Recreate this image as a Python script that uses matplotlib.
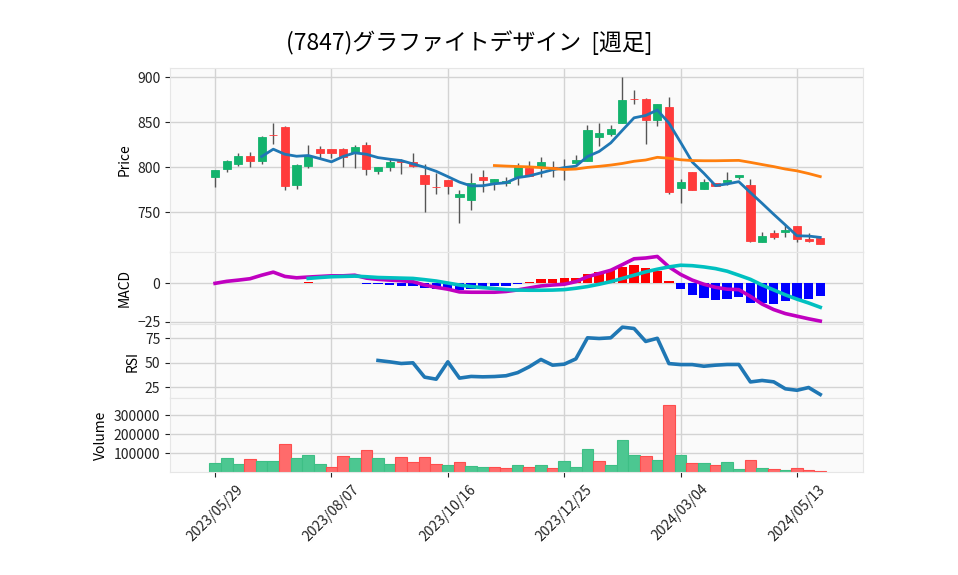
import numpy as np
import matplotlib
matplotlib.use("Agg")
import matplotlib.pyplot as plt
from matplotlib.ticker import FuncFormatter

plt.rcParams["font.family"] = ["Noto Sans CJK JP", "DejaVu Sans"]

# ---------------------------
# Datos semanales
# ---------------------------
title = "(7847)グラファイトデザイン  [週足]"
tick_pos = [0, 10, 20, 30, 40, 50]
tick_labels = ["2023/05/29", "2023/08/07", "2023/10/16",
               "2023/12/25", "2024/03/04", "2024/05/13"]

opens = [789.6, 798.5, 804.0, 812.6, 807.4, 836.0, 844.8, 780.4, 801.9, 820.4,
         820.4, 820.4, 816.3, 824.8, 796.3, 800.0, 807.4, 805.9, 791.5, 778.1,
         785.9, 767.4, 764.0, 789.3, 783.3, 782.2, 788.9, 798.9, 800.0, 800.0,
         798.9, 804.4, 807.4, 834.0, 837.0, 849.6, 876.0, 876.0, 851.9, 866.3,
         777.4, 794.8, 775.9, 782.2, 784.1, 788.9, 780.4, 716.7, 727.0, 728.5,
         734.8, 720.4, 721.1]
closes = [796.7, 807.0, 812.6, 807.4, 833.7, 835.2, 779.6, 802.6, 813.0, 816.3,
          816.3, 811.1, 822.2, 797.8, 800.4, 806.3, 805.9, 801.9, 781.1, 777.8,
          779.6, 770.4, 782.2, 786.3, 787.0, 784.8, 800.0, 790.7, 805.6, 798.5,
          800.0, 808.1, 841.5, 838.1, 842.6, 874.8, 875.6, 851.9, 870.4, 773.0,
          784.1, 775.2, 783.3, 779.6, 785.9, 791.5, 718.5, 723.7, 723.0, 730.4,
          720.7, 718.5, 714.8]
highs = [796.7, 808.1, 815.6, 817.4, 834.8, 849.6, 845.9, 803.7, 824.4, 823.0,
         820.4, 821.5, 824.8, 828.5, 800.4, 810.0, 808.9, 815.6, 803.3, 793.3,
         785.9, 774.8, 793.3, 797.0, 787.0, 788.9, 804.4, 807.4, 811.9, 807.4,
         808.9, 813.7, 847.0, 848.9, 847.0, 900.0, 886.0, 876.7, 870.4, 877.8,
         786.7, 794.8, 786.7, 782.2, 794.4, 791.5, 786.7, 727.8, 730.4, 736.0,
         734.8, 726.7, 721.1]
lows = [777.8, 794.4, 801.5, 800.0, 803.3, 825.5, 774.8, 775.6, 798.9, 810.7,
        810.7, 800.0, 798.9, 791.5, 792.2, 796.3, 792.2, 800.0, 750.0, 770.4,
        770.4, 737.8, 752.6, 772.2, 774.8, 779.6, 780.0, 790.7, 789.6, 789.6,
        786.0, 804.4, 807.4, 823.7, 834.8, 849.6, 870.0, 825.6, 845.2, 770.0,
        760.0, 775.2, 775.9, 779.6, 780.4, 786.7, 716.7, 716.7, 720.0, 723.0,
        716.7, 717.4, 714.4]

nan = np.nan
ma5 = [nan, nan, nan, nan,
       811.9, 820.0, 814.4, 812.2, 813.0, 809.6, 806.0, 811.9, 816.0, 814.4,
       810.7, 808.9, 807.4, 803.7, 800.0, 795.5, 789.6, 783.5, 779.3, 779.5,
       781.7, 782.8, 788.5, 790.4, 793.8, 797.2, 799.6, 801.2, 811.9, 817.5,
       827.0, 841.0, 854.8, 857.4, 863.4, 848.9, 827.6, 805.8, 793.3, 779.6,
       781.5, 784.0, 771.9, 760.0, 747.8, 736.0, 724.0, 723.7, 722.2]
ma25 = [nan] * 24 + [
    801.9, 801.3, 800.8, 800.4, 799.6, 798.6, 797.5, 798.0, 799.8, 801.0,
    802.4, 804.2, 806.6, 808.0, 811.0, 810.0, 808.3, 807.4, 807.2, 807.2,
    807.4, 807.6, 805.4, 803.0, 800.7, 798.0, 796.0, 793.0, 789.6]

macd = [0.0, 1.3, 2.1, 3.0, 5.3, 7.3, 4.5, 3.6, 4.1, 4.5,
        4.9, 4.9, 5.3, 3.4, 2.6, 2.1, 1.7, 1.1, -1.1, -2.6,
        -3.8, -5.6, -5.8, -5.8, -5.8, -5.3, -4.3, -3.0, -1.7, -1.1,
        -0.6, 1.1, 4.3, 6.4, 8.5, 12.2, 16.0, 16.5, 17.5, 10.7,
        5.8, 2.1, -0.6, -2.6, -3.8, -4.1, -8.5, -13.5, -17.1, -19.7,
        -21.4, -23.1, -24.6]
signal = [nan] * 8 + [
    3.2, 3.8, 4.3, 4.5, 4.7, 4.3, 3.8, 3.6, 3.4, 3.2,
    2.4, 1.5, 0.2, -1.1, -2.1, -2.8, -3.4, -4.1, -4.4, -4.5,
    -4.5, -4.4, -4.1, -3.2, -2.1, -0.6, 1.1, 3.2, 5.3, 7.5,
    9.2, 10.7, 11.8, 11.5, 10.7, 9.6, 7.9, 5.3, 2.6, -1.1,
    -4.3, -7.5, -10.3, -12.8, -15.6]
hist = [nan] * 8 + [
    0.6, 0.3, 0.5, 0.3, 0.5, -0.4, -0.6, -0.9, -1.5, -1.8,
    -3.0, -3.6, -3.8, -4.2, -4.0, -2.5, -2.0, -1.5, -0.6, 1.0,
    2.8, 2.8, 3.4, 3.4, 6.0, 7.5, 8.5, 10.5, 11.8, 10.0,
    8.0, 1.5, -3.8, -7.9, -9.6, -11.1, -10.3, -9.0, -12.8, -12.8,
    -13.2, -11.8, -10.0, -10.0, -8.5]

rsi = [nan] * 14 + [
    52.4, 51.0, 49.3, 50.0, 35.4, 33.3, 51.0, 34.4, 36.1, 35.7,
    36.0, 36.8, 40.0, 46.0, 53.4, 47.6, 48.6, 54.0, 75.5, 74.8,
    75.5, 86.4, 85.0, 71.8, 75.0, 49.2, 48.2, 48.2, 46.5, 47.6,
    48.3, 48.3, 30.5, 32.0, 30.6, 23.5, 22.0, 24.8, 17.7]

volume = [49500, 75600, 44300, 68700, 60000, 60000, 147000, 75600, 89600, 44300,
          28700, 84300, 75600, 115600, 75600, 44300, 79100, 53000, 79100, 44300,
          39100, 53000, 33900, 28700, 28700, 23500, 39100, 28700, 39100, 23500,
          60000, 28700, 122600, 60000, 39100, 169600, 91300, 86000, 65200, 352000,
          91300, 47800, 47800, 39100, 54800, 18300, 65200, 23500, 18300, 13000,
          23500, 13000, 7800]
# 1 = sube (verde), 0 = baja (rojo) para las barras de volumen
vol_up = [1, 1, 1, 0, 1, 1, 0, 1, 1, 1,
          0, 0, 1, 0, 1, 1, 0, 0, 0, 0,
          1, 0, 1, 1, 0, 0, 1, 0, 1, 0,
          1, 1, 1, 0, 1, 1, 1, 0, 1, 0,
          1, 0, 1, 0, 1, 1, 0, 1, 0, 1,
          0, 0, 0]

# ---------------------------
# Estilo
# ---------------------------
UP = "#13b36d"
DOWN = "#ff3b3b"
VUP = "#4cc791"
VDOWN = "#ff6b6b"
BG = "#fafafa"
GRID = "#d3d3d3"

x = np.arange(len(closes))
o = np.array(opens)
c = np.array(closes)
h = np.array(highs)
l = np.array(lows)

fig = plt.figure(figsize=(9.58, 5.75), dpi=100)
left, width = 0.1775, 0.7233
ax1 = fig.add_axes([left, 0.5617, width, 0.3200])
ax2 = fig.add_axes([left, 0.4357, width, 0.1260], sharex=ax1)
ax3 = fig.add_axes([left, 0.3078, width, 0.1279], sharex=ax1)
ax4 = fig.add_axes([left, 0.1783, width, 0.1295], sharex=ax1)

for ax in (ax1, ax2, ax3, ax4):
    ax.set_facecolor(BG)
    ax.grid(True, color=GRID, linewidth=1.0)
    ax.set_axisbelow(True)
    for s in ax.spines.values():
        s.set_color("#e6e6e6")
    ax.tick_params(axis="y", labelsize=10, colors="#222222", length=3.5)
    ax.tick_params(axis="x", length=0, labelbottom=False)

# ---------------------------
# Velas
# ---------------------------
up = c >= o
colors = np.where(up, UP, DOWN)
ax1.vlines(x, l, h, color="#555555", linewidth=1.0, zorder=2)
body_lo = np.minimum(o, c)
body_h = np.maximum(np.abs(c - o), 0.6)
ax1.bar(x, body_h, bottom=body_lo, width=0.7, color=colors,
        edgecolor=colors, linewidth=0.6, zorder=3)
ax1.plot(x, ma5, color="#1f77b4", linewidth=2.0, zorder=4)
ax1.plot(x, ma25, color="#ff7f0e", linewidth=2.0, zorder=4)
ax1.set_ylim(706, 910)
ax1.set_yticks([750, 800, 850, 900])
ax1.set_ylabel("Price", fontsize=10)

# ---------------------------
# MACD
# ---------------------------
hist_arr = np.array(hist)
hcol = np.where(hist_arr >= 0, "red", "blue")
ax2.bar(x, hist_arr, width=0.8, color=hcol, zorder=2)
ax2.plot(x, macd, color="#c000c0", linewidth=2.6, zorder=3)
ax2.plot(x, signal, color="#00c0c0", linewidth=2.6, zorder=3)
ax2.set_ylim(-26.8, 20.4)
ax2.set_yticks([-25, 0])
ax2.set_ylabel("MACD", fontsize=10)

# ---------------------------
# RSI
# ---------------------------
ax3.plot(x, rsi, color="#1f77b4", linewidth=2.6)
ax3.set_ylim(14.1, 89.1)
ax3.set_yticks([25, 50, 75])
ax3.set_ylabel("RSI", fontsize=10)

# ---------------------------
# Volumen
# ---------------------------
vcol = [VUP if u else VDOWN for u in vol_up]
vedge = ["#3dbf85" if u else "#ff4d4d" for u in vol_up]
ax4.bar(x, volume, width=1.0, color=vcol, edgecolor=vedge, linewidth=0.8)
ax4.set_ylim(0, 389000)
ax4.set_yticks([100000, 200000, 300000])
ax4.yaxis.set_major_formatter(FuncFormatter(lambda v, p: f"{int(v)}"))
ax4.set_ylabel("Volume", fontsize=10)
ax4.tick_params(axis="x", length=3.5, labelbottom=True, labelsize=10,
                colors="#222222")

ax1.set_xlim(-3.87, 55.67)
ax4.set_xticks(tick_pos)
ax4.set_xticklabels(tick_labels, rotation=45, ha="center")

fig.text(0.49, 0.925, title, ha="center", va="center", fontsize=16.5)

fig.savefig("out.png", dpi=100)
